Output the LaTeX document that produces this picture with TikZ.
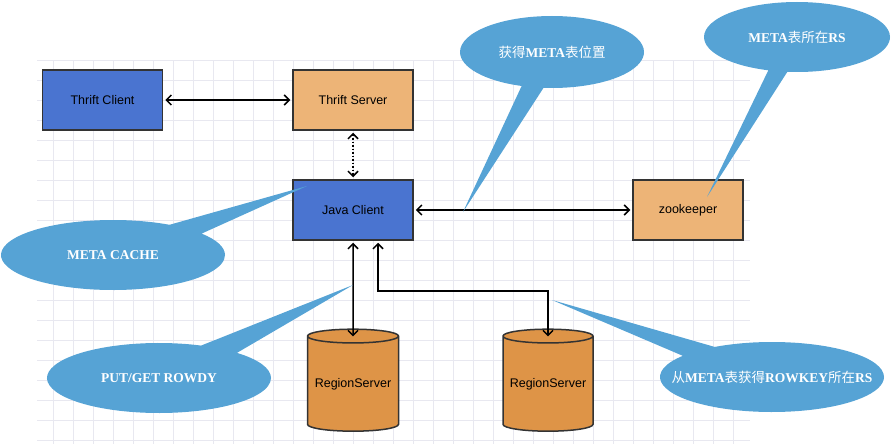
\documentclass[tikz,border=0pt]{standalone}
\usepackage{fontspec}
\usepackage{tikz}
\usepackage{xcolor}
\usetikzlibrary{shapes.geometric,shapes.callouts,arrows.meta}
\setmainfont{Liberation Serif}
\newfontfamily\boxfont{Liberation Sans}
\newfontfamily\cjk{Noto Sans CJK SC}
\newcommand{\zhtext}[1]{{\cjk\mdseries #1}}
\newcommand{\notetext}[1]{\makebox[0pt]{#1}}
\definecolor{boxblue}{RGB}{74,116,208}
\definecolor{boxorange}{RGB}{237,180,119}
\definecolor{cylorange}{RGB}{222,148,71}
\definecolor{noteblue}{RGB}{86,163,213}
\definecolor{edgegray}{RGB}{51,51,51}
\definecolor{gridgray}{RGB}{232,232,240}
\tikzset{
  box/.style={draw=edgegray,line width=1.5pt,minimum width=120pt,minimum height=60pt,
    inner sep=0pt,font=\boxfont\fontsize{12.5}{14}\selectfont},
  bluebox/.style={box,fill=boxblue},
  orangebox/.style={box,fill=boxorange},
  store/.style={cylinder,shape border rotate=90,aspect=0.18,draw=edgegray,line width=1.5pt,
    fill=cylorange,minimum width=91pt,minimum height=102pt,inner sep=0pt,
    font=\boxfont\fontsize{12.5}{14}\selectfont},
  note/.style={ellipse callout,fill=noteblue,text=white,inner sep=0pt,
    minimum width=224pt,minimum height=70pt,font=\bfseries\fontsize{13.5}{16}\selectfont},
  link/.style={line width=1.5pt,black,>={Straight Barb[length=5pt,width=10pt,line width=1.5pt]}},
  gridline/.style={gridgray,line width=0.6pt}
}
\begin{document}
\begin{tikzpicture}[x=1pt,y=-1pt]
\useasboundingbox (0,0) rectangle (891,444);
% background grid
\foreach \gx in {53,73,...,733} \draw[gridline] (\gx,60) -- (\gx,444);
\foreach \gy in {60,80,...,440} \draw[gridline] (37,\gy) -- (750,\gy);
% boxes
\node[bluebox] (tclient) at (102.5,100) {Thrift Client};
\node[orangebox] (tserver) at (353,100) {Thrift Server};
\node[bluebox] (jclient) at (353,210) {Java Client};
\node[orangebox,minimum width=110pt] (zk) at (688,210) {zookeeper};
\node[store] (rs1) at (353,384) {RegionServer};
\node[store,minimum width=90pt] (rs2) at (548,384) {RegionServer};
% links
\draw[link,<->,shorten <=2pt,shorten >=2pt] (tclient) -- (tserver);
\draw[link,<->,dotted,shorten <=2pt,shorten >=2pt] (tserver) -- (jclient);
\draw[link,<->,shorten <=2pt,shorten >=2pt] (jclient) -- (zk);
\draw[link,<->,shorten <=2pt,shorten >=-8pt] (jclient.south) -- (rs1.north);
\draw[link,<->,shorten <=2pt,shorten >=-8pt] ([xshift=25pt]jclient.south) -- ++(0,50) -| (rs2.north);
% callout tips
\coordinate (tipmeta) at (463,212);
\coordinate (tipzk) at (707,197);
\coordinate (tipcache) at (307,186);
\coordinate (tipput) at (353,285);
\coordinate (tiprs) at (552,300);
% callouts
\node[note,minimum width=184pt,minimum height=72pt,callout absolute pointer={(tipmeta)},
  callout pointer arc=14] (getmeta) at (552,52) {\notetext{\zhtext{获得}META\zhtext{表位置}}};
\node[note,minimum width=186pt,callout absolute pointer={(tipzk)},
  callout pointer arc=12] (metars) at (797,37) {\notetext{META\zhtext{表所在}RS}};
\node[note,callout absolute pointer={(tipcache)},callout pointer arc=22] (cache) at (113,255) {\notetext{META CACHE}};
\node[note,callout absolute pointer={(tipput)},callout pointer arc=22] (putget) at (159,378) {\notetext{PUT/GET ROWDY}};
\node[note,callout absolute pointer={(tiprs)},callout pointer arc=22] (rowkey) at (772,377)
  {\notetext{\zhtext{从}META\zhtext{表获得}ROWKEY\zhtext{所在}RS}};
\end{tikzpicture}
\end{document}
